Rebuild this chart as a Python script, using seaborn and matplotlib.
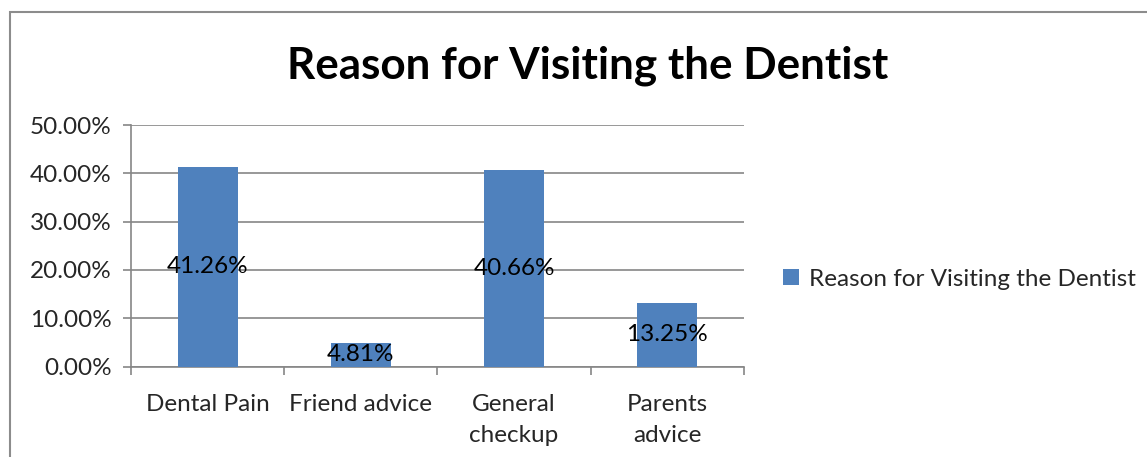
import matplotlib
matplotlib.use("Agg")
import matplotlib.pyplot as plt
from matplotlib.patches import Rectangle
import seaborn as sns
import pandas as pd

# Survey results
categories = ["Dental Pain", "Friend advice", "General\ncheckup", "Parents\nadvice"]
shares = [41.26, 4.81, 40.66, 13.25]
y_ticks = [0, 10, 20, 30, 40, 50]
series_name = "Reason for Visiting the Dentist"

BAR = "#4F81BD"
GRID = "#868686"
FONT = ["Lato", "DejaVu Sans"]

sns.set_theme(style="white")
plt.rcParams["font.family"] = FONT

W, H = 1147, 457
fig = plt.figure(figsize=(W / 100, H / 100), dpi=100)

# outer chart frame
fig.add_artist(Rectangle((9.5 / W, -0.1), 1.2, 1 - 12.5 / H + 0.1,
                         transform=fig.transFigure, fill=False,
                         edgecolor="#8C8C8C", linewidth=1.5))

left, right, top, bottom = 131, 744, 125, 366.5
ax = fig.add_axes([left / W, 1 - bottom / H, (right - left) / W, (bottom - top) / H])

df = pd.DataFrame({"reason": categories, "share": shares})
sns.barplot(data=df, x="reason", y="share", color=BAR, width=0.39,
            saturation=1, ax=ax, label=series_name, zorder=3, linewidth=0)
if ax.get_legend() is not None:
    ax.get_legend().remove()

ax.set_ylim(0, 50)
ax.set_xlim(-0.5, len(categories) - 0.5)
ax.set_yticks(y_ticks)
ax.set_yticklabels([f"{v:.2f}%" for v in y_ticks], fontsize=17.5)
ax.yaxis.grid(True, color=GRID, linewidth=1.2, zorder=0)
ax.tick_params(axis="y", length=6, width=1.2, color=GRID, pad=8, left=True)

# category boundaries as tick marks, names centred between them
ax.set_xticks([i - 0.5 for i in range(len(categories) + 1)])
ax.set_xticklabels([])
ax.set_xticks(range(len(categories)), minor=True)
ax.set_xticklabels(categories, minor=True, fontsize=17.5, linespacing=1.55)
ax.tick_params(axis="x", which="major", length=6, width=1.2, color=GRID, bottom=True)
ax.tick_params(axis="x", which="minor", length=0, pad=20)
ax.set_xlabel("")
ax.set_ylabel("")

for s in ["top", "right"]:
    ax.spines[s].set_visible(False)
for s in ["left", "bottom"]:
    ax.spines[s].set_color(GRID)
    ax.spines[s].set_linewidth(1.2)

# value labels centred in each bar
for i, v in enumerate(shares):
    ax.text(i, v / 2, f"{v:.2f}%", ha="center", va="center",
            fontsize=17.5, color="black", zorder=4)

fig.text(0.512, 1 - 66 / H, series_name, ha="center", va="center",
         fontsize=31.7, fontweight="bold", color="black")

handles, labels = ax.get_legend_handles_labels()
fig.legend(handles[:1], labels[:1], loc="center left",
           bbox_to_anchor=(771 / W, 1 - 279 / H),
           frameon=False, fontsize=17.5, handlelength=0.65, handleheight=0.65,
           handletextpad=0.4, borderpad=0)

fig.savefig("out.png", dpi=100)
